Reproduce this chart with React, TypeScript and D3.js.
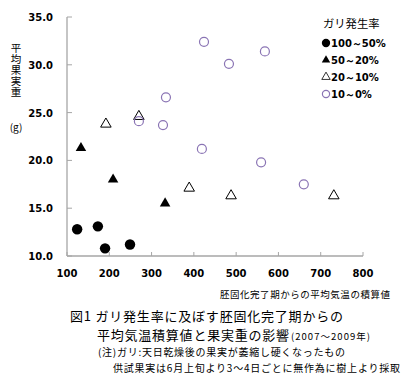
import React from 'react'
import * as d3 from 'd3'

// data: x = accumulated mean temperature, y = mean fruit weight (g)
const grpA_x = [124, 173, 190, 249]
const grpA_y = [12.8, 13.1, 10.8, 11.2]
const grpB_x = [133, 209, 332]
const grpB_y = [21.3, 18.0, 15.5]
const grpC_x = [192, 270, 389, 488, 731]
const grpC_y = [23.8, 24.6, 17.1, 16.3, 16.3]
const grpD_x = [424, 334, 270, 327, 483, 568, 419, 559, 660]
const grpD_y = [32.4, 26.6, 24.1, 23.7, 30.1, 31.4, 21.2, 19.8, 17.5]

const xTicks = [100, 200, 300, 400, 500, 600, 700, 800]
const yTicks = [10, 15, 20, 25, 30, 35]
const legendLabels = ['100～50%', '50～20%', '20～10%', '10～0%']

const purple = '#8a74b4'
const jp = '"Noto Sans CJK JP", sans-serif'
const num = '"DejaVu Sans", Verdana, sans-serif'

const App = () => {
  const x = d3.scaleLinear().domain([100, 800]).range([67, 363])
  const y = d3.scaleLinear().domain([10, 35]).range([256, 17])
  const tri = d3.symbol().type(d3.symbolTriangle).size(48)()

  const marker = (k: number, cx: number, cy: number, key: any, small = false) => {
    const s = small ? 0.8 : 1
    if (k === 0) return <circle key={key} cx={cx} cy={cy} r={5.2 * s} fill="#000" />
    if (k === 1) return <path key={key} d={tri as string} transform={`translate(${cx},${cy}) scale(${s})`} fill="#000" />
    if (k === 2) return <path key={key} d={tri as string} transform={`translate(${cx},${cy}) scale(${s})`} fill="#fff" stroke="#000" strokeWidth={1} />
    return <circle key={key} cx={cx} cy={cy} r={4.5 * s} fill="none" stroke={purple} strokeWidth={1.2} />
  }

  const groups = [
    [grpA_x, grpA_y],
    [grpB_x, grpB_y],
    [grpC_x, grpC_y],
    [grpD_x, grpD_y],
  ]

  return (
    <svg width={415} height={388} style={{ position: 'absolute', left: 0, top: 0, background: '#fff' }}>
      {/* axes */}
      <line x1={67} x2={67} y1={y(35)} y2={y(10)} stroke="#a6a6a6" strokeWidth={1.3} />
      <line x1={67} x2={x(800)} y1={y(10)} y2={y(10)} stroke="#a6a6a6" strokeWidth={1.3} />
      {yTicks.map(t => (
        <g key={'y' + t}>
          <line x1={67} x2={72} y1={y(t)} y2={y(t)} stroke="#a6a6a6" />
          <text x={53} y={y(t) + 4} textAnchor="end" fontFamily={num} fontWeight="bold" fontSize={10}>{t.toFixed(1)}</text>
        </g>
      ))}
      {xTicks.map(t => (
        <g key={'x' + t}>
          <line x1={x(t)} x2={x(t)} y1={y(10)} y2={y(10) - 4} stroke="#a6a6a6" />
          <text x={x(t)} y={277} textAnchor="middle" fontFamily={num} fontWeight="bold" fontSize={10}>{t}</text>
        </g>
      ))}

      {/* y axis title */}
      <text x={16} y={43} fontFamily={jp} fontSize={10.5} letterSpacing={0.5} style={{ writingMode: 'vertical-rl' }}>平均果実重</text>
      <text x={16} y={131} textAnchor="middle" fontFamily={jp} fontSize={10}>(g)</text>

      {/* points */}
      {groups.map(([xs, ys], k) => xs.map((v, i) => marker(k, x(v), y(ys[i]), `${k}-${i}`)))}

      {/* legend */}
      <text x={323} y={28} fontFamily={jp} fontSize={11.3}>ガリ発生率</text>
      {legendLabels.map((l, i) => (
        <g key={l}>
          {marker(i, 326, 43 + i * 17, 'lg' + i, true)}
          <text x={331} y={47 + i * 17} fontFamily={num} fontWeight="bold" fontSize={10}>{l}</text>
        </g>
      ))}

      {/* x axis title */}
      <text x={220} y={298} fontFamily={jp} fontSize={9.5} textLength={170} lengthAdjust="spacing">胚固化完了期からの平均気温の積算値</text>

      {/* caption */}
      <text x={70} y={321} fontFamily={jp} fontSize={13} textLength={273} lengthAdjust="spacing">図1 ガリ発生率に及ぼす胚固化完了期からの</text>
      <text x={97} y={340} fontFamily={jp} fontSize={13} textLength={192} lengthAdjust="spacing">平均気温積算値と果実重の影響</text>
      <text x={291} y={340} fontFamily={jp} fontSize={9.5} textLength={79} lengthAdjust="spacing">(2007～2009年)</text>
      <text x={98} y={356} fontFamily={jp} fontSize={10} textLength={247} lengthAdjust="spacing">(注)ガリ:天日乾燥後の果実が萎縮し硬くなったもの</text>
      <text x={113} y={372} fontFamily={jp} fontSize={10} textLength={287} lengthAdjust="spacing">供試果実は6月上旬より3～4日ごとに無作為に樹上より採取</text>
    </svg>
  )
}

export default App
